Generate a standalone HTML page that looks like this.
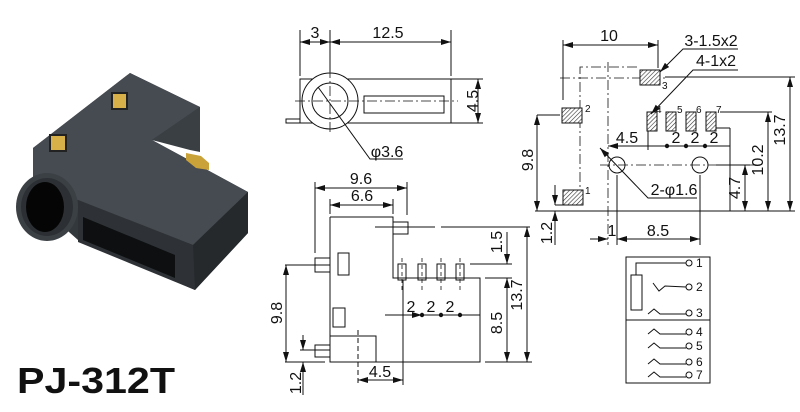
<!DOCTYPE html>
<html><head><meta charset="utf-8"><style>
html,body{margin:0;padding:0;background:#fff;}
svg{display:block;}
text{font-family:"Liberation Sans",sans-serif;fill:#111;}
</style></head><body>
<svg width="800" height="412" viewBox="0 0 800 412" xmlns="http://www.w3.org/2000/svg">
<defs>
<marker id="a" viewBox="0 0 10 6" refX="10" refY="3" markerWidth="10" markerHeight="6" orient="auto-start-reverse" markerUnits="userSpaceOnUse"><path d="M0,0L10,3L0,6z" fill="#111"/></marker>
<pattern id="h" width="3" height="3" patternUnits="userSpaceOnUse" patternTransform="rotate(45)"><rect width="3" height="3" fill="#fff"/><line x1="0" y1="0" x2="0" y2="3" stroke="#333" stroke-width="1.2"/></pattern>
</defs>

<!-- photo -->
<g>
<polygon points="33,148 130,73 200,107 200,150 152,140 248,192 248,233 195,290 78,240 33,200" fill="#33383d"/>
<polygon points="33,148 130,73 200,107 152,140 248,192 193,245 78,200 33,180" fill="#464b51"/>
<polygon points="152,140 200,107 200,152 190,150" fill="#3a3f44"/>
<polygon points="78,200 193,245 195,290 78,242" fill="#2e3236"/>
<polygon points="193,245 248,192 248,233 195,290" fill="#25292c"/>
<polygon points="83,217 175,255 175,278 83,240" fill="#0d0f10"/>
<polygon points="186,153 201,156 209,163 209,170 196,168 186,160" fill="#c9a33a"/>
<rect x="112" y="93" width="15" height="16" fill="#d8b04a" stroke="#222" stroke-width="2"/>
<rect x="50" y="135" width="16" height="16" fill="#d8b04a" stroke="#222" stroke-width="2"/>
<ellipse cx="47" cy="207" rx="31" ry="34" fill="#3b4045"/>
<ellipse cx="47" cy="207" rx="26" ry="29" fill="#2c3034"/>
<ellipse cx="45" cy="207" rx="19" ry="25" fill="#050505"/>
</g>
<text x="17" y="393" font-size="36" font-weight="bold" textLength="158" lengthAdjust="spacingAndGlyphs">PJ-312T</text>

<g stroke="#111" stroke-width="1" fill="none">
<!-- top view -->
<line x1="300" y1="30" x2="300" y2="76"/><line x1="330" y1="30" x2="330" y2="72"/><line x1="451" y1="30" x2="451" y2="76"/>
<line x1="300" y1="42" x2="330" y2="42" marker-start="url(#a)" marker-end="url(#a)"/>
<line x1="330" y1="42" x2="451" y2="42" marker-start="url(#a)" marker-end="url(#a)"/>
<rect x="300" y="79" width="151" height="44"/>
<path d="M286,119H300V123H286z"/>
<circle cx="330" cy="101" r="28" fill="#fff"/>
<circle cx="330" cy="101" r="18"/>
<rect x="364" y="96" width="80" height="17"/>
<line x1="295" y1="101" x2="458" y2="101" stroke-dasharray="10,3,2,3" stroke-width="0.8"/>
<line x1="330" y1="68" x2="330" y2="135" stroke-dasharray="10,3,2,3" stroke-width="0.8"/>
<line x1="451" y1="79" x2="483" y2="79"/><line x1="451" y1="123" x2="483" y2="123"/>
<line x1="478" y1="79" x2="478" y2="123" marker-start="url(#a)" marker-end="url(#a)"/>
<polyline points="318,87 370,159 403,159"/>

<!-- side view -->
<line x1="315" y1="182" x2="315" y2="253"/><line x1="407" y1="182" x2="407" y2="215"/>
<line x1="330" y1="199" x2="330" y2="214"/><line x1="393" y1="199" x2="393" y2="214"/>
<line x1="315" y1="188" x2="407" y2="188" marker-start="url(#a)" marker-end="url(#a)"/>
<line x1="330" y1="205" x2="393" y2="205" marker-start="url(#a)" marker-end="url(#a)"/>
<polyline points="330,217 393,217 393,278 480,278 480,362 330,362 330,217"/>
<rect x="393" y="222" width="15" height="12"/>
<line x1="375" y1="227" x2="435" y2="227"/><line x1="441" y1="227" x2="530" y2="227"/>
<rect x="315" y="258" width="15" height="14"/>
<line x1="285" y1="265" x2="330" y2="265"/>
<rect x="338" y="253" width="11" height="22"/>
<rect x="333" y="308" width="12" height="19"/>
<rect x="330" y="336" width="46" height="26"/>
<line x1="358" y1="330" x2="358" y2="385" stroke-dasharray="5,3"/>
<rect x="315" y="345" width="15" height="12"/>
<line x1="300" y1="350" x2="330" y2="350"/>
<rect x="398" y="264" width="8" height="16"/><rect x="418" y="264" width="8" height="16"/><rect x="437" y="264" width="8" height="16"/><rect x="456" y="264" width="8" height="16"/>
<g stroke-dasharray="4,3" stroke-width="0.8"><line x1="402" y1="258" x2="402" y2="290"/><line x1="422" y1="258" x2="422" y2="290"/><line x1="441" y1="258" x2="441" y2="290"/><line x1="460" y1="258" x2="460" y2="290"/></g>
<line x1="403" y1="280" x2="403" y2="385"/>
<line x1="385" y1="315" x2="422" y2="315" marker-end="url(#a)"/><line x1="422" y1="315" x2="480" y2="315"/>
<line x1="470" y1="264" x2="512" y2="264"/><line x1="485" y1="278" x2="512" y2="278"/><line x1="485" y1="362" x2="532" y2="362"/>
<line x1="507" y1="232" x2="507" y2="264" marker-end="url(#a)"/>
<line x1="507" y1="278" x2="507" y2="362" marker-start="url(#a)" marker-end="url(#a)"/>
<line x1="527" y1="227" x2="527" y2="362" marker-start="url(#a)" marker-end="url(#a)"/>
<line x1="286" y1="265" x2="286" y2="362" marker-start="url(#a)" marker-end="url(#a)"/>
<line x1="285" y1="362" x2="325" y2="362"/>
<line x1="303" y1="335" x2="303" y2="350" marker-end="url(#a)"/><line x1="303" y1="362" x2="303" y2="395" marker-start="url(#a)"/>
<line x1="358" y1="380" x2="403" y2="380" marker-start="url(#a)" marker-end="url(#a)"/>

<!-- PCB footprint -->
<line x1="563" y1="40" x2="563" y2="100"/><line x1="658" y1="40" x2="658" y2="68"/>
<line x1="563" y1="45" x2="658" y2="45" marker-start="url(#a)" marker-end="url(#a)"/>
<g stroke-dasharray="10,3,2,3" stroke-width="0.8">
<polyline points="580,200 580,67 640,67"/>
<line x1="608" y1="62" x2="608" y2="245"/>
<line x1="600" y1="165" x2="755" y2="165"/>
<line x1="560" y1="78" x2="665" y2="78"/>
</g>
<rect x="640" y="70" width="20" height="15" fill="url(#h)"/>
<rect x="562" y="108" width="20" height="15" fill="url(#h)"/>
<rect x="563" y="190" width="20" height="15" fill="url(#h)"/>
<rect x="647" y="112" width="10" height="19" fill="url(#h)"/>
<rect x="666" y="112" width="10" height="19" fill="url(#h)"/>
<rect x="686" y="112" width="10" height="19" fill="url(#h)"/>
<rect x="706" y="112" width="10" height="19" fill="url(#h)"/>
<polyline points="738,49 683,49 660,72" marker-end="url(#a)"/>
<polyline points="738,70 693,70 651,114" marker-end="url(#a)"/>
<line x1="608" y1="146" x2="648" y2="146" marker-start="url(#a)"/>
<line x1="648" y1="146" x2="730" y2="146"/>
<line x1="648" y1="131" x2="648" y2="150"/>
<circle cx="617" cy="165" r="8"/><circle cx="700" cy="165" r="8"/>
<polyline points="600,148 648,198 697,198" marker-start="url(#a)"/>
<line x1="716" y1="165" x2="750" y2="165"/>
<line x1="720" y1="112" x2="772" y2="112"/><line x1="716" y1="128" x2="730" y2="128"/>
<line x1="730" y1="128" x2="730" y2="211"/>
<line x1="665" y1="77" x2="795" y2="77"/>
<line x1="535" y1="211" x2="795" y2="211"/>
<line x1="745" y1="165" x2="745" y2="211" marker-start="url(#a)" marker-end="url(#a)"/>
<line x1="768" y1="112" x2="768" y2="211" marker-start="url(#a)" marker-end="url(#a)"/>
<line x1="790" y1="77" x2="790" y2="211" marker-start="url(#a)" marker-end="url(#a)"/>
<line x1="537" y1="115" x2="560" y2="115"/>
<line x1="537" y1="115" x2="537" y2="211" marker-start="url(#a)" marker-end="url(#a)"/>
<line x1="555" y1="205" x2="580" y2="205"/>
<line x1="555" y1="185" x2="555" y2="205" marker-end="url(#a)"/><line x1="555" y1="211" x2="555" y2="245" marker-start="url(#a)"/>
<line x1="617" y1="175" x2="617" y2="245"/><line x1="700" y1="175" x2="700" y2="245"/>
<line x1="590" y1="239" x2="608" y2="239" marker-end="url(#a)"/>
<line x1="617" y1="239" x2="700" y2="239" marker-start="url(#a)" marker-end="url(#a)"/>

<!-- schematic -->
<rect x="626" y="257" width="84" height="126"/>
<line x1="626" y1="320" x2="710" y2="320"/>
<polyline points="686,263 636,263 636,275"/>
<rect x="631" y="275" width="11" height="35"/>
<polyline points="653,283 659,291 665,286 686,287"/>
<g><path d="M648,314 L654,309 L660,314 L686,314"/><path d="M648,334 L654,329 L660,334 L686,334"/><path d="M648,348 L654,343 L660,348 L686,348"/><path d="M648,364 L654,359 L660,364 L686,364"/><path d="M648,377 L654,372 L660,377 L686,377"/></g>
<circle cx="689" cy="263" r="3" fill="#fff"/><circle cx="689" cy="287" r="3" fill="#fff"/><circle cx="689" cy="313" r="3" fill="#fff"/><circle cx="689" cy="332" r="3" fill="#fff"/><circle cx="689" cy="346" r="3" fill="#fff"/><circle cx="689" cy="362" r="3" fill="#fff"/><circle cx="689" cy="375" r="3" fill="#fff"/>
</g>
<g fill="#111">
<circle cx="422" cy="315" r="2.2"/><circle cx="441" cy="315" r="2.2"/><circle cx="460" cy="315" r="2.2"/>
<circle cx="667" cy="146" r="2.2"/><circle cx="686" cy="146" r="2.2"/><circle cx="705" cy="146" r="2.2"/>
</g>

<g font-size="16" text-anchor="middle">
<text x="315" y="38">3</text><text x="388" y="38">12.5</text>
<text x="387" y="157">φ3.6</text>
<text x="472" y="101" transform="rotate(-90 472 101)" dy="6">4.5</text>
<text x="361" y="184">9.6</text><text x="362" y="201">6.6</text>
<text x="411" y="312">2</text><text x="431" y="312">2</text><text x="450" y="312">2</text>
<text x="496" y="242" transform="rotate(-90 496 242)" dy="6">1.5</text>
<text x="496" y="323" transform="rotate(-90 496 323)" dy="6">8.5</text>
<text x="516" y="295" transform="rotate(-90 516 295)" dy="6">13.7</text>
<text x="276" y="313" transform="rotate(-90 276 313)" dy="6">9.8</text>
<text x="295" y="383" transform="rotate(-90 295 383)" dy="6">1.2</text>
<text x="380" y="377">4.5</text>
<text x="609" y="41">10</text>
<text x="711" y="46">3-1.5x2</text>
<text x="716" y="66">4-1x2</text>
<text x="627" y="143">4.5</text>
<text x="676" y="143">2</text><text x="695" y="143">2</text><text x="714" y="143">2</text>
<text x="674" y="195">2-φ1.6</text>
<text x="734" y="188" transform="rotate(-90 734 188)" dy="6">4.7</text>
<text x="757" y="160" transform="rotate(-90 757 160)" dy="6">10.2</text>
<text x="779" y="130" transform="rotate(-90 779 130)" dy="6">13.7</text>
<text x="527" y="160" transform="rotate(-90 527 160)" dy="6">9.8</text>
<text x="546" y="233" transform="rotate(-90 546 233)" dy="6">1.2</text>
<text x="612" y="236">1</text><text x="658" y="236">8.5</text>
</g>
<g font-size="10">
<text x="662" y="89">3</text><text x="585" y="112">2</text><text x="585" y="194">1</text>
<text x="656" y="113">4</text><text x="677" y="113">5</text><text x="696" y="113">6</text><text x="716" y="113">7</text>
</g>
<g font-size="12">
<text x="696" y="267">1</text><text x="696" y="291">2</text><text x="696" y="317">3</text><text x="696" y="336">4</text><text x="696" y="350">5</text><text x="696" y="366">6</text><text x="696" y="379">7</text>
</g>
</svg>
</body></html>
